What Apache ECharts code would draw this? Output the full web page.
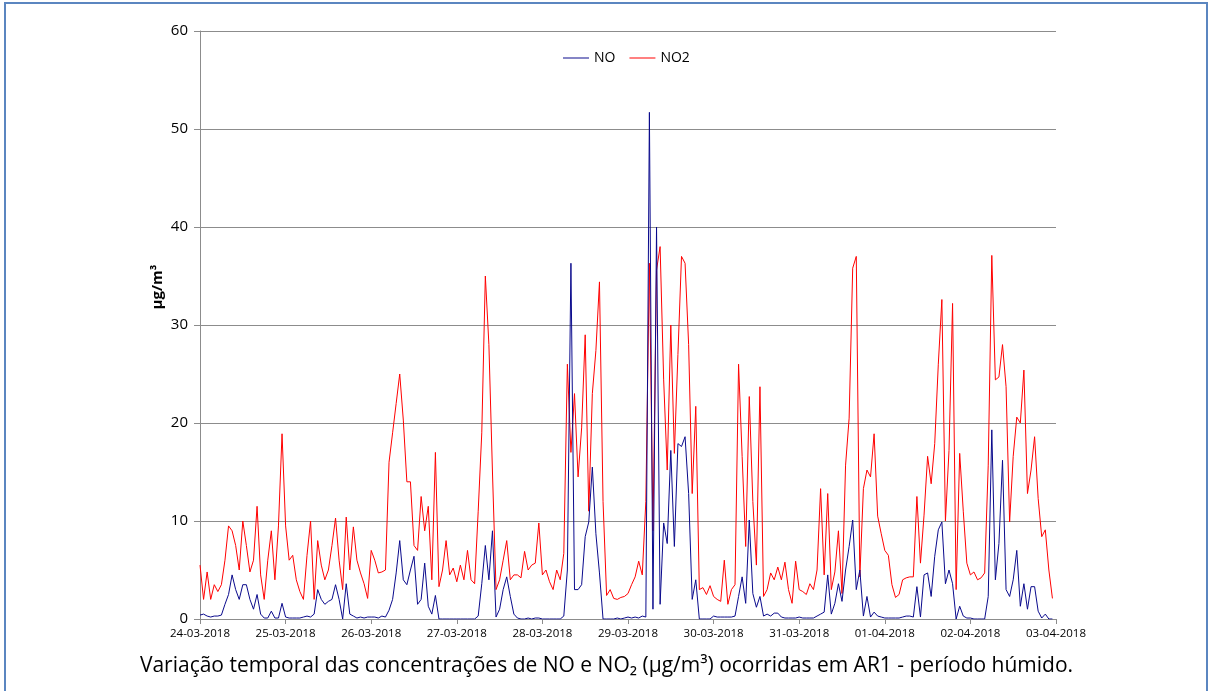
<!DOCTYPE html>
<html>
<head>
<meta charset="utf-8">
<script src="https://cdn.jsdelivr.net/npm/echarts@6/dist/echarts.min.js"></script>
<style>
  html, body { margin: 0; padding: 0; background: #fff; }
  #chart { width: 1213px; height: 691px; }
</style>
</head>
<body>
<div id="chart"></div>
<script>
// hourly values, 24-03-2018 00h .. 02-04-2018 23h
const dateLabels = ["24-03-2018", "25-03-2018", "26-03-2018", "27-03-2018", "28-03-2018",
  "29-03-2018", "30-03-2018", "31-03-2018", "01-04-2018", "02-04-2018", "03-04-2018"];

const noValues = [
  0.4, 0.5, 0.3, 0.2, 0.3, 0.3, 0.4, 1.5, 2.5, 4.5, 3, 2, 3.5, 3.5, 2, 1, 2.5, 0.5, 0.1, 0.1, 0.8, 0.1, 0.1, 1.6,
  0.2, 0.1, 0.1, 0.1, 0.1, 0.2, 0.3, 0.2, 0.5, 3, 2, 1.5, 1.8, 2, 3.5, 2, 0, 3.6, 0.5, 0.3, 0.1, 0.2, 0.1, 0.2,
  0.2, 0.2, 0.1, 0.3, 0.2, 0.9, 2, 4.7, 8, 4, 3.5, 5, 6.4, 1.5, 2, 5.7, 1.3, 0.5, 2.4, 0, 0, 0, 0, 0,
  0, 0, 0, 0, 0, 0, 0.3, 3.6, 7.5, 4, 9, 0.2, 1, 3, 4.3, 2.3, 0.5, 0.1, 0, 0, 0.1, 0, 0.1, 0.1,
  0, 0, 0, 0, 0, 0, 0.3, 5, 36.3, 3, 3, 3.5, 8.4, 9.9, 15.5, 8.7, 4.7, 0, 0, 0, 0, 0.1, 0, 0.1,
  0.2, 0.1, 0.2, 0.1, 0.3, 0.2, 51.7, 1, 40, 1.5, 9.8, 7.7, 17.2, 7.4, 17.9, 17.6, 18.6, 12.8, 2, 4, 0, 0, 0, 0,
  0.3, 0.2, 0.2, 0.2, 0.2, 0.2, 0.3, 2.3, 4.3, 1.6, 10.1, 2.6, 1.2, 2.3, 0.3, 0.5, 0.3, 0.6, 0.6, 0.2, 0.1, 0.1, 0.1, 0.1,
  0.2, 0.1, 0.1, 0.1, 0.1, 0.3, 0.5, 0.7, 4.5, 0.5, 1.6, 3.6, 1.8, 5, 7.4, 10.1, 3, 5, 0.3, 2.3, 0.2, 0.7, 0.3, 0.2,
  0.1, 0.1, 0.1, 0.1, 0.1, 0.2, 0.3, 0.3, 0.2, 3.3, 0.2, 4.5, 4.7, 2.3, 6.4, 9.1, 9.9, 3.6, 5, 3.6, 0, 1.3, 0.3, 0.1,
  0.1, 0, 0, 0, 0, 2.3, 19.3, 4, 7.7, 16.2, 3, 2.3, 4, 7, 1.3, 3.6, 1, 3.3, 3.3, 0.8, 0.1, 0.5, 0, 0
];

const no2Values = [
  5.5, 2, 4.8, 2, 3.5, 2.8, 3.5, 6, 9.5, 9, 7.5, 5, 10, 7.5, 4.8, 6, 11.5, 4.5, 2, 6, 9, 4, 9.5, 18.9,
  9.5, 6, 6.5, 4, 2.8, 2, 6.5, 10, 2, 8, 5.5, 4, 5, 7.5, 10.3, 6, 3, 10.4, 5, 9.4, 6, 4.7, 3.6, 2.1,
  7, 6, 4.7, 4.8, 5, 16, 19, 22, 25, 20.3, 14, 14, 7.5, 7, 12.5, 9, 11.5, 4, 17, 3.3, 5, 8, 4.5, 5.2,
  3.8, 5.5, 4, 7, 4, 3.6, 11, 19, 35, 28, 15, 3, 4, 6, 8, 4, 4.5, 4.5, 4.2, 6.9, 5, 5.5, 5.7, 9.8,
  4.5, 5, 3.8, 3, 5, 4, 6.7, 26, 17, 23, 14.5, 19.5, 29, 11, 23, 27.4, 34.4, 12, 2.4, 3, 2.1, 2, 2.2, 2.3,
  2.6, 3.5, 4.3, 5.9, 4.5, 12, 36.3, 9, 35.6, 38, 24.4, 15.2, 30, 16.9, 27, 37, 36.3, 28, 12.8, 21.7, 3, 3.2, 2.5, 3.4,
  2.3, 2, 1.8, 6, 1.5, 3, 3.5, 26, 16.6, 7.4, 22.7, 12, 5.5, 23.7, 2.3, 3, 4.7, 4, 5.3, 4, 5.8, 3, 1.6, 5.9,
  3, 2.8, 2.5, 3.6, 3, 5, 13.3, 4.5, 12.8, 3, 4.8, 9, 2.6, 15.7, 20.5, 35.8, 37, 4.3, 13.3, 15.2, 14.5, 18.9, 10.5, 8.7,
  7, 6.5, 3.5, 2.2, 2.5, 4, 4.2, 4.3, 4.3, 12.5, 5.7, 10.6, 16.6, 13.8, 17.9, 26, 32.6, 10, 17.2, 32.2, 3, 16.9, 11, 5.7,
  4.5, 4.8, 4, 4.2, 4.7, 15.7, 37.1, 24.4, 24.7, 28, 23.7, 9.9, 16.6, 20.6, 20, 25.4, 12.8, 15.2, 18.6, 12.3, 8.4, 9.1, 5, 2.1
];

const chart = echarts.init(document.getElementById("chart"));
const font = "'Open Sans', 'Noto Sans', sans-serif";

chart.setOption({
  animation: false,
  grid: { left: 200, right: 157, top: 31, bottom: 72 },
  legend: {
    top: 46,
    left: 558,
    icon: "rect",
    itemWidth: 26,
    itemHeight: 1,
    itemGap: 14,
    textStyle: { fontFamily: font, fontSize: 14, color: "#000" },
    data: ["NO", "NO2"],
  },
  xAxis: {
    type: "value",
    min: 0,
    max: 240,
    interval: 24,
    axisLine: { lineStyle: { color: "#8c8c8c" } },
    axisTick: { show: true, length: 5, lineStyle: { color: "#8c8c8c" } },
    splitLine: { show: false },
    axisLabel: {
      margin: 9,
      fontFamily: font,
      fontSize: 11.5,
      color: "#000",
      formatter: (v) => dateLabels[Math.round(v / 24)],
    },
  },
  yAxis: {
    type: "value",
    min: 0,
    max: 60,
    interval: 10,
    axisLine: { show: true, lineStyle: { color: "#8c8c8c" } },
    axisTick: { show: true, length: 6, lineStyle: { color: "#8c8c8c" } },
    splitLine: { lineStyle: { color: "#8c8c8c", width: 1 } },
    axisLabel: { margin: 12, fontFamily: font, fontSize: 15, color: "#000" },
  },
  graphic: [
    {
      type: "rect",
      silent: true,
      shape: { x: 5, y: 3, width: 1202, height: 720 },
      style: { fill: "none", stroke: "#5b86c0", lineWidth: 2 },
    },
    {
      type: "text",
      x: 158,
      y: 287,
      rotation: Math.PI / 2,
      style: {
        text: "µg/m³",
        fontFamily: font,
        fontSize: 15,
        fontWeight: "bold",
        fill: "#000",
        align: "center",
        verticalAlign: "middle",
      },
    },
    {
      type: "text",
      left: "center",
      top: 656,
      style: {
        text: "Variação temporal das concentrações de NO e NO₂ (µg/m³) ocorridas em AR1 - período húmido.",
        fontFamily: font,
        fontSize: 21,
        fill: "#000",
      },
    },
  ],
  series: [
    {
      name: "NO",
      type: "line",
      z: 3,
      symbol: "none",
      itemStyle: { color: "#0a0a8c" },
      lineStyle: { color: "#0a0a8c", width: 1 },
      data: noValues.map((v, i) => [i, v]),
    },
    {
      name: "NO2",
      type: "line",
      z: 2,
      symbol: "none",
      itemStyle: { color: "#ff0000" },
      lineStyle: { color: "#ff0000", width: 1 },
      data: no2Values.map((v, i) => [i, v]),
    },
  ],
});
</script>
</body>
</html>
